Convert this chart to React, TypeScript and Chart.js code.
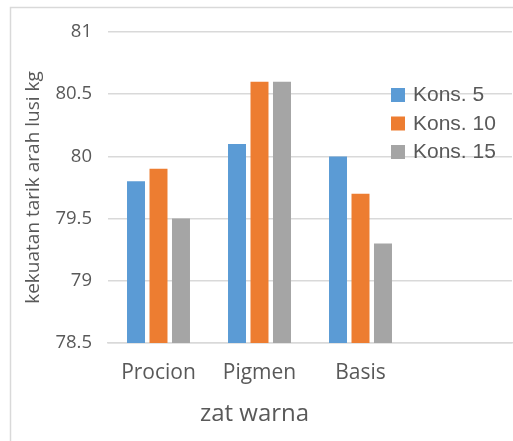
import React, { useEffect, useRef } from "react";
import { Chart, registerables } from "chart.js";

Chart.register(...registerables);

const categories = ["Procion", "Pigmen", "Basis", ""];
const seriesLabels = ["Kons. 5", "Kons. 10", "Kons. 15"];
const kons5 = [79.8, 80.1, 80.0, null];
const kons10 = [79.9, 80.6, 79.7, null];
const kons15 = [79.5, 80.6, 79.3, null];
const seriesColors = ["#5B9BD5", "#ED7D31", "#A5A5A5"];
const yMin = 78.5;
const yMax = 81;
const yStep = 0.5;
const xTitle = "zat warna";
const yTitle = "kekuatan tarik arah lusi kg";

const TEXT = "#595959";
const GRID = "#d9d9d9";
const FONT = "'Open Sans', 'Noto Sans', sans-serif";

const framePlugin = {
  id: "frame",
  beforeDraw(chart: any) {
    const ctx = chart.ctx;
    ctx.save();
    ctx.fillStyle = "#ffffff";
    ctx.fillRect(0, 0, chart.width, chart.height);
    ctx.strokeStyle = GRID;
    ctx.lineWidth = 1.5;
    ctx.beginPath();
    ctx.moveTo(10.5, chart.height + 5);
    ctx.lineTo(10.5, 7.5);
    ctx.lineTo(chart.width + 5, 7.5);
    ctx.stroke();
    ctx.restore();
  },
};

const xTitlePlugin = {
  id: "xTitle",
  afterDraw(chart: any) {
    const ctx = chart.ctx;
    const x = chart.scales.x.getPixelForValue(1) - 5;
    ctx.save();
    ctx.font = `24px ${FONT}`;
    ctx.fillStyle = TEXT;
    ctx.textAlign = "center";
    ctx.textBaseline = "middle";
    ctx.fillText(xTitle, x, 414);
    ctx.restore();
  },
};

const legendPlugin = {
  id: "insideLegend",
  afterDraw(chart: any) {
    const ctx = chart.ctx;
    ctx.save();
    ctx.font = "21px 'Liberation Sans', Arial, sans-serif";
    ctx.textBaseline = "middle";
    ctx.textAlign = "left";
    chart.data.datasets.forEach((ds: any, i: number) => {
      const top = 88 + i * 28.5;
      ctx.fillStyle = ds.backgroundColor;
      ctx.fillRect(391, top, 14, 14);
      ctx.fillStyle = TEXT;
      ctx.fillText(ds.label, 413, top + 7.5);
    });
    ctx.restore();
  },
};

export default function App() {
  const canvasRef = useRef<HTMLCanvasElement | null>(null);

  useEffect(() => {
    document.body.style.margin = "0";
    const canvas = canvasRef.current;
    if (!canvas) return;
    const data = [kons5, kons10, kons15];
    const chart = new Chart(canvas, {
      type: "bar",
      data: {
        labels: categories,
        datasets: seriesLabels.map((label, i) => ({
          label,
          data: data[i] as any,
          backgroundColor: seriesColors[i],
          borderWidth: 0,
          barPercentage: 0.8,
          categoryPercentage: 0.668,
        })),
      },
      options: {
        animation: false,
        responsive: false,
        maintainAspectRatio: false,
        devicePixelRatio: 1,
        layout: { padding: { left: 0, top: 32, right: 1, bottom: 0 } },
        plugins: {
          legend: { display: false },
          tooltip: { enabled: false },
        },
        scales: {
          x: {
            grid: { display: false, drawTicks: false },
            border: { display: true, color: GRID, width: 1.5 },
            ticks: {
              color: TEXT,
              font: { family: FONT, size: 21 },
              padding: 17,
              maxRotation: 0,
            },
            title: { display: false, text: xTitle },
            afterFit(scale: any) {
              scale.height = 98;
              scale.paddingLeft = 0;
              scale.paddingRight = 0;
            },
          },
          y: {
            min: yMin,
            max: yMax,
            grid: { color: GRID, lineWidth: 1.5, drawTicks: false },
            border: { display: false },
            ticks: {
              stepSize: yStep,
              color: TEXT,
              font: { family: FONT, size: 18.5 },
              padding: 16,
              callback: (v: any) => String(Math.round(Number(v) * 10) / 10),
            },
            title: {
              display: true,
              text: yTitle,
              color: TEXT,
              font: { family: FONT, size: 19 },
              padding: { top: 22, bottom: 0 },
            },
            afterFit(scale: any) {
              scale.width = 108;
              scale.paddingTop = 0;
              scale.paddingBottom = 0;
            },
          },
        },
      },
      plugins: [framePlugin, legendPlugin, xTitlePlugin],
    });
    return () => chart.destroy();
  }, []);

  return (
    <div style={{ width: 513, height: 441 }}>
      <canvas ref={canvasRef} width={513} height={441} style={{ display: "block" }} />
    </div>
  );
}
